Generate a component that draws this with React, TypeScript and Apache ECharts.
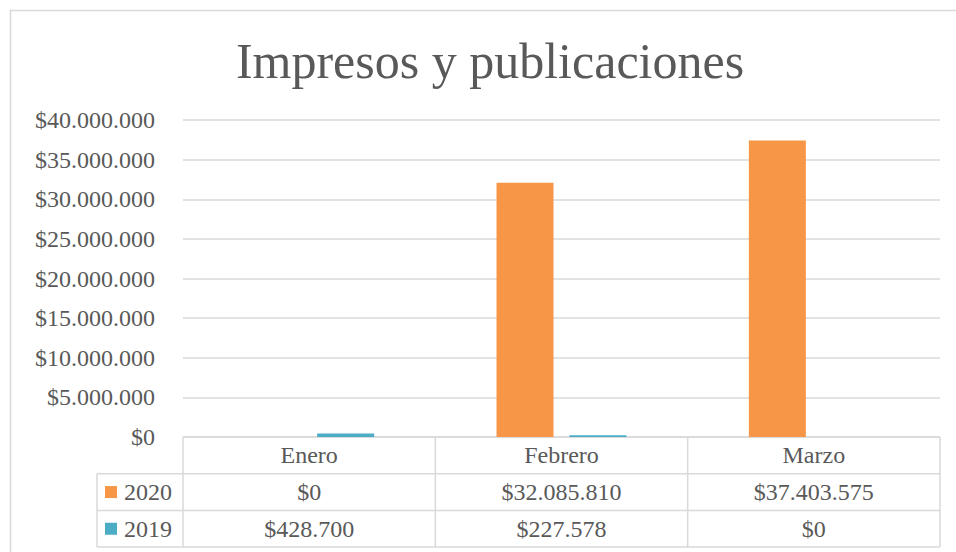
import React, { useEffect, useRef } from "react";
import * as echarts from "echarts";

const chartTitle = "Impresos y publicaciones";
const categories = ["Enero", "Febrero", "Marzo"];
const seriesNames = ["2020", "2019"];
const values2020 = [0, 32085810, 37403575];
const values2019 = [428700, 227578, 0];
const seriesColors = ["#F79646", "#4BACC6"];
const yMax = 40000000;
const yStep = 5000000;

const FONT = "'Liberation Serif', 'Times New Roman', serif";
const TEXT = "#595959";
const LINE = "#d9d9d9";
const FS = 24;

function money(n: number): string {
  const s = Math.round(n).toString().replace(/\B(?=(\d{3})+(?!\d))/g, ".");
  return "$" + s;
}

const W = 956;
const H = 552;
const gridLeft = 183;
const gridRight = 940;
const gridTop = 120;
const gridBottom = 437;
const rowH = 36.7;
const tableLeft = 97;

function buildTable(): any[] {
  const els: any[] = [];
  const colW = (gridRight - gridLeft) / categories.length;
  const rows = [values2020, values2019];
  const lineStyle = { stroke: LINE, lineWidth: 1.5 };
  els.push({ type: "line", shape: { x1: gridLeft, y1: gridBottom, x2: gridRight, y2: gridBottom }, style: lineStyle, silent: true });
  for (let r = 1; r <= rows.length; r++) {
    const y = gridBottom + rowH * r;
    els.push({ type: "line", shape: { x1: tableLeft, y1: y, x2: gridRight, y2: y }, style: lineStyle, silent: true });
  }
  const yEnd = gridBottom + rowH * (rows.length + 1);
  els.push({ type: "line", shape: { x1: tableLeft, y1: yEnd, x2: gridRight, y2: yEnd }, style: lineStyle, silent: true });
  els.push({ type: "line", shape: { x1: tableLeft, y1: gridBottom + rowH, x2: tableLeft, y2: yEnd }, style: lineStyle, silent: true });
  for (let c = 0; c <= categories.length; c++) {
    const x = gridLeft + colW * c;
    els.push({ type: "line", shape: { x1: x, y1: gridBottom, x2: x, y2: yEnd }, style: lineStyle, silent: true });
  }
  categories.forEach((cat, c) => {
    els.push({
      type: "text",
      x: gridLeft + colW * (c + 0.5),
      y: gridBottom + rowH * 0.5,
      style: { text: cat, fill: TEXT, font: `${FS}px ${FONT}`, textAlign: "center", textVerticalAlign: "middle" },
      silent: true,
    });
  });
  rows.forEach((vals, r) => {
    const yc = gridBottom + rowH * (r + 1.5);
    els.push({ type: "rect", shape: { x: 105, y: yc - 6, width: 12, height: 12 }, style: { fill: seriesColors[r] }, silent: true });
    els.push({
      type: "text",
      x: 124,
      y: yc,
      style: { text: seriesNames[r], fill: TEXT, font: `${FS}px ${FONT}`, textAlign: "left", textVerticalAlign: "middle" },
      silent: true,
    });
    vals.forEach((v, c) => {
      els.push({
        type: "text",
        x: gridLeft + colW * (c + 0.5),
        y: yc,
        style: { text: money(v), fill: TEXT, font: `${FS}px ${FONT}`, textAlign: "center", textVerticalAlign: "middle" },
        silent: true,
      });
    });
  });
  return els;
}

export default function App() {
  const ref = useRef<HTMLDivElement>(null);
  useEffect(() => {
    document.body.style.margin = "0";
    if (!ref.current) return;
    const chart = echarts.init(ref.current, undefined, { renderer: "svg" });
    chart.setOption({
      animation: false,
      backgroundColor: "#ffffff",
      textStyle: { fontFamily: FONT },
      grid: {
        left: gridLeft,
        right: W - gridRight,
        top: gridTop,
        bottom: H - gridBottom,
        outerBoundsMode: "none",
        containLabel: false,
      },
      xAxis: {
        type: "category",
        data: categories,
        axisLine: { show: false },
        axisTick: { show: false },
        axisLabel: { show: false },
        splitLine: { show: false },
      },
      yAxis: {
        type: "value",
        min: 0,
        max: yMax,
        interval: yStep,
        axisLine: { show: false },
        axisTick: { show: false },
        axisLabel: {
          formatter: (v: number) => money(v),
          color: TEXT,
          fontSize: FS,
          fontFamily: FONT,
          margin: 28,
        },
        splitLine: { lineStyle: { color: LINE, width: 1.5 } },
      },
      series: [
        {
          name: seriesNames[0],
          type: "bar",
          data: values2020,
          barWidth: 57,
          barGap: "28%",
          itemStyle: { color: seriesColors[0] },
        },
        {
          name: seriesNames[1],
          type: "bar",
          data: values2019,
          barWidth: 57,
          barGap: "28%",
          itemStyle: { color: seriesColors[1] },
        },
      ],
      graphic: [
        {
          type: "rect",
          shape: { x: 10.5, y: 10.5, width: 970, height: 570 },
          style: { fill: "none", stroke: LINE, lineWidth: 1.5 },
          silent: true,
        },
        {
          type: "text",
          x: 490,
          y: 61,
          style: { text: chartTitle, fill: TEXT, font: `50px ${FONT}`, textAlign: "center", textVerticalAlign: "middle" },
          silent: true,
        },
        ...buildTable(),
      ],
    });
    return () => chart.dispose();
  }, []);
  return <div ref={ref} style={{ width: W, height: H }} />;
}
